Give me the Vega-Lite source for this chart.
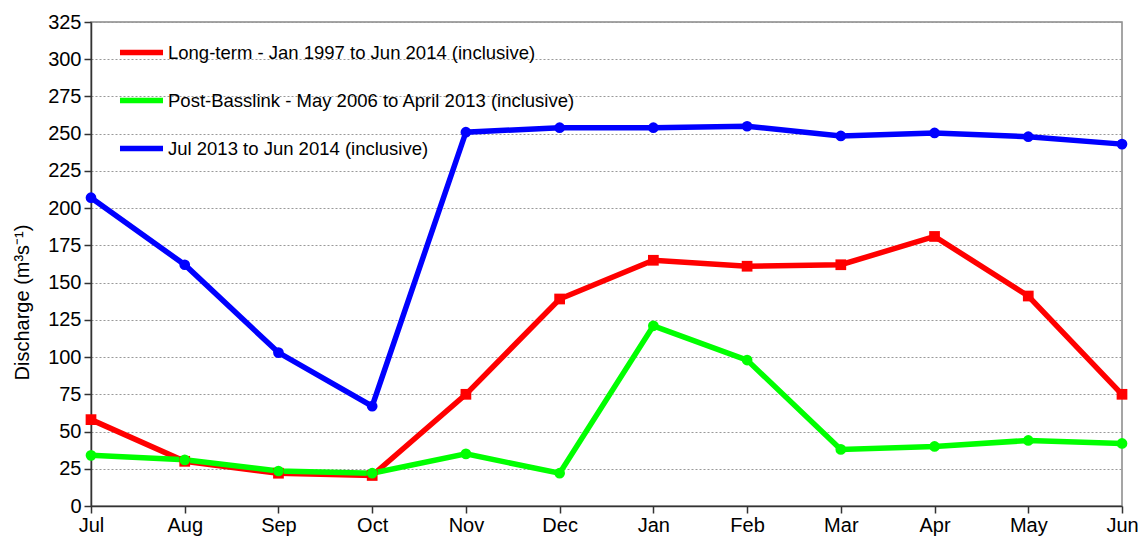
{
  "$schema": "https://vega.github.io/schema/vega-lite/v6.json",
  "width": 1031,
  "height": 484,
  "autosize": {"type": "none"},
  "padding": {"left": 91, "top": 22, "right": 19, "bottom": 34},
  "background": "white",
  "config": {
    "font": "Liberation Sans",
    "view": {"stroke": "#888888", "strokeWidth": 1.5},
    "axis": {
      "labelFont": "Liberation Sans",
      "titleFont": "Liberation Sans",
      "labelColor": "#000000",
      "titleColor": "#000000",
      "domainColor": "#333333",
      "tickColor": "#333333",
      "domainWidth": 1.5,
      "tickWidth": 1.5
    }
  },
  "data": {
    "values": [
      {"month": "Jul", "series": "Long-term - Jan 1997 to Jun 2014 (inclusive)", "value": 58},
      {"month": "Aug", "series": "Long-term - Jan 1997 to Jun 2014 (inclusive)", "value": 30},
      {"month": "Sep", "series": "Long-term - Jan 1997 to Jun 2014 (inclusive)", "value": 22},
      {"month": "Oct", "series": "Long-term - Jan 1997 to Jun 2014 (inclusive)", "value": 20.5},
      {"month": "Nov", "series": "Long-term - Jan 1997 to Jun 2014 (inclusive)", "value": 75},
      {"month": "Dec", "series": "Long-term - Jan 1997 to Jun 2014 (inclusive)", "value": 139},
      {"month": "Jan", "series": "Long-term - Jan 1997 to Jun 2014 (inclusive)", "value": 165},
      {"month": "Feb", "series": "Long-term - Jan 1997 to Jun 2014 (inclusive)", "value": 161},
      {"month": "Mar", "series": "Long-term - Jan 1997 to Jun 2014 (inclusive)", "value": 162},
      {"month": "Apr", "series": "Long-term - Jan 1997 to Jun 2014 (inclusive)", "value": 181},
      {"month": "May", "series": "Long-term - Jan 1997 to Jun 2014 (inclusive)", "value": 141},
      {"month": "Jun", "series": "Long-term - Jan 1997 to Jun 2014 (inclusive)", "value": 75},
      {"month": "Jul", "series": "Post-Basslink - May 2006 to April 2013 (inclusive)", "value": 34},
      {"month": "Aug", "series": "Post-Basslink - May 2006 to April 2013 (inclusive)", "value": 31},
      {"month": "Sep", "series": "Post-Basslink - May 2006 to April 2013 (inclusive)", "value": 23.5},
      {"month": "Oct", "series": "Post-Basslink - May 2006 to April 2013 (inclusive)", "value": 22},
      {"month": "Nov", "series": "Post-Basslink - May 2006 to April 2013 (inclusive)", "value": 35},
      {"month": "Dec", "series": "Post-Basslink - May 2006 to April 2013 (inclusive)", "value": 22},
      {"month": "Jan", "series": "Post-Basslink - May 2006 to April 2013 (inclusive)", "value": 121},
      {"month": "Feb", "series": "Post-Basslink - May 2006 to April 2013 (inclusive)", "value": 98},
      {"month": "Mar", "series": "Post-Basslink - May 2006 to April 2013 (inclusive)", "value": 38},
      {"month": "Apr", "series": "Post-Basslink - May 2006 to April 2013 (inclusive)", "value": 40},
      {"month": "May", "series": "Post-Basslink - May 2006 to April 2013 (inclusive)", "value": 44},
      {"month": "Jun", "series": "Post-Basslink - May 2006 to April 2013 (inclusive)", "value": 42},
      {"month": "Jul", "series": "Jul 2013 to Jun 2014 (inclusive)", "value": 207},
      {"month": "Aug", "series": "Jul 2013 to Jun 2014 (inclusive)", "value": 162},
      {"month": "Sep", "series": "Jul 2013 to Jun 2014 (inclusive)", "value": 103},
      {"month": "Oct", "series": "Jul 2013 to Jun 2014 (inclusive)", "value": 67},
      {"month": "Nov", "series": "Jul 2013 to Jun 2014 (inclusive)", "value": 251},
      {"month": "Dec", "series": "Jul 2013 to Jun 2014 (inclusive)", "value": 254},
      {"month": "Jan", "series": "Jul 2013 to Jun 2014 (inclusive)", "value": 254},
      {"month": "Feb", "series": "Jul 2013 to Jun 2014 (inclusive)", "value": 255},
      {"month": "Mar", "series": "Jul 2013 to Jun 2014 (inclusive)", "value": 248.5},
      {"month": "Apr", "series": "Jul 2013 to Jun 2014 (inclusive)", "value": 250.5},
      {"month": "May", "series": "Jul 2013 to Jun 2014 (inclusive)", "value": 248},
      {"month": "Jun", "series": "Jul 2013 to Jun 2014 (inclusive)", "value": 243}
    ]
  },
  "encoding": {
    "x": {
      "field": "month",
      "type": "ordinal",
      "sort": ["Jul","Aug","Sep","Oct","Nov","Dec","Jan","Feb","Mar","Apr","May","Jun"],
      "scale": {"type": "point", "padding": 0},
      "axis": {"title": null, "labelAngle": 0, "labelFontSize": 20, "tickSize": 7, "labelPadding": 2, "grid": false}
    },
    "y": {
      "field": "value",
      "type": "quantitative",
      "scale": {"domain": [0, 325], "nice": false},
      "axis": {
        "values": [0,25,50,75,100,125,150,175,200,225,250,275,300,325],
        "title": "Discharge (m³s⁻¹)",
        "titleFontSize": 20,
        "titleFontWeight": "normal",
        "titlePadding": 15,
        "titleY": 280,
        "labelFontSize": 20,
        "tickSize": 7,
        "labelPadding": 3,
        "grid": true,
        "gridColor": "#999999",
        "gridDash": [2, 2],
        "gridWidth": 1
      }
    }
  },
  "resolve": {"legend": {"color": "independent"}, "scale": {"color": "shared"}},
  "layer": [
    {
      "mark": {"type": "line", "strokeWidth": 5.5},
      "encoding": {
        "color": {
          "field": "series",
          "type": "nominal",
          "sort": ["Long-term - Jan 1997 to Jun 2014 (inclusive)", "Post-Basslink - May 2006 to April 2013 (inclusive)", "Jul 2013 to Jun 2014 (inclusive)"],
          "scale": {
            "domain": ["Long-term - Jan 1997 to Jun 2014 (inclusive)", "Post-Basslink - May 2006 to April 2013 (inclusive)", "Jul 2013 to Jun 2014 (inclusive)"],
            "range": ["#ff0000", "#00ff00", "#0000ff"]
          },
          "legend": {
            "title": null,
            "orient": "none",
            "legendX": 26,
            "legendY": 6,
            "symbolType": "stroke",
            "symbolStrokeWidth": 5.5,
            "symbolSize": 1850,
            "labelFontSize": 18.5,
            "labelFont": "Liberation Sans",
            "labelColor": "#000000",
            "labelOffset": 2,
            "rowPadding": 12,
            "labelLimit": 700
          }
        }
      }
    },
    {
      "transform": [{"filter": "datum.series == 'Long-term - Jan 1997 to Jun 2014 (inclusive)'"}],
      "mark": {"type": "point", "shape": "square", "filled": true, "opacity": 1, "size": 115},
      "encoding": {
        "color": {"field": "series", "type": "nominal", "legend": null}
      }
    },
    {
      "transform": [{"filter": "datum.series != 'Long-term - Jan 1997 to Jun 2014 (inclusive)'"}],
      "mark": {"type": "point", "shape": "circle", "filled": true, "opacity": 1, "size": 115},
      "encoding": {
        "color": {"field": "series", "type": "nominal", "legend": null}
      }
    }
  ]
}
